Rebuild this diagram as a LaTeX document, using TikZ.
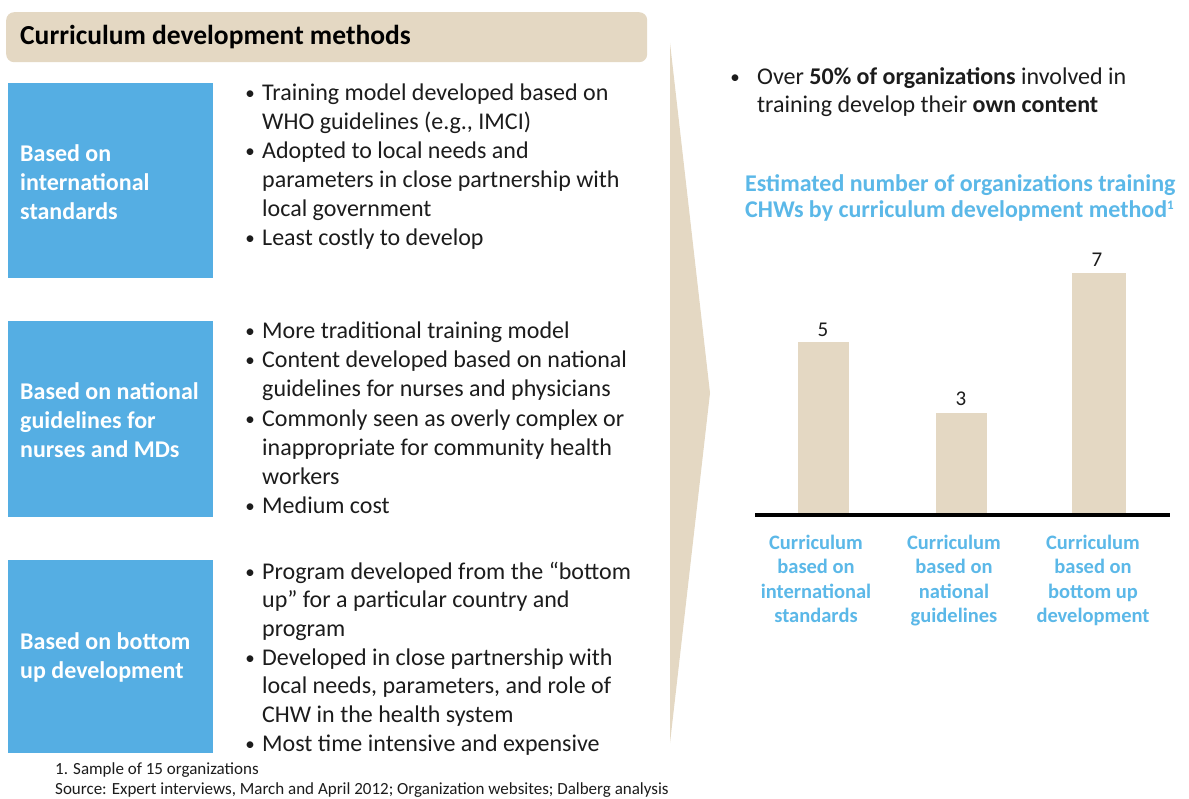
\documentclass[tikz,border=0pt]{standalone}
\usepackage{fontspec}
\setmainfont{Carlito}
\definecolor{beige}{HTML}{E4D8C3}
\definecolor{boxblue}{HTML}{55AEE3}
\definecolor{chartblue}{HTML}{5BB8E8}
\definecolor{txt}{HTML}{1C1C1C}
\begin{document}
\begin{tikzpicture}[x=1pt,y=-1pt,
  titlebar/.style={fill=beige, rounded corners=8pt, anchor=north west, minimum width=641pt, minimum height=50pt, inner sep=0pt},
  titletext/.style={anchor=west, inner sep=0pt, font=\fontsize{27.5}{32}\selectfont\bfseries, text=black},
  catbox/.style={fill=boxblue, anchor=north west, minimum width=205pt, inner sep=0pt},
  cattext/.style={anchor=west, inner sep=0pt, align=left, font=\fontsize{24}{29}\selectfont\bfseries, text=white},
  bul/.style={anchor=base, inner sep=0pt, font=\fontsize{19}{29}\selectfont, text=txt},
  btext/.style={anchor=base west, inner sep=0pt, align=left, font=\fontsize{24}{29}\selectfont, text=txt},
  bar/.style={fill=beige, anchor=south, minimum width=51pt, inner sep=0pt},
  val/.style={anchor=center, inner sep=0pt, font=\fontsize{21}{25}\selectfont, text=txt},
  cat/.style={anchor=base, inner sep=0pt, align=center, font=\fontsize{20.5}{24.5}\selectfont\bfseries, text=chartblue},
  foot/.style={anchor=base west, inner sep=0pt, align=left, font=\fontsize{17}{20}\selectfont, text=txt}
]
\useasboundingbox (0,0) rectangle (1189,799);
\fill[white] (0,0) rectangle (1189,799);

% title bar
\node[titlebar] (title) at (6,12) {};
\node[titletext] (titlet) at ([xshift=14pt]title.west) {Curriculum development methods};

% chevron
\fill[beige] (670,43) -- (710,393) -- (670,743) -- cycle;

% category boxes
\node[catbox, minimum height=195pt] (box1) at (8,83) {};
\node[cattext] (l1) at ([xshift=12pt,yshift=-1pt]box1.west) {Based on\\international\\standards};
\node[catbox, minimum height=196pt] (box2) at (8,321) {};
\node[cattext] (l2) at ([xshift=12pt,yshift=-1pt]box2.west) {Based on national\\guidelines for\\nurses and MDs};
\node[catbox, minimum height=193pt] (box3) at (8,560) {};
\node[cattext] (l3) at ([xshift=12pt,yshift=-1pt]box3.west) {Based on bottom\\up development};

% bullets block 1 (base anchor = last line's baseline)
\node[bul] (b11) at (250,100) {•};
\node[btext] (t11) at (262,130) {Training model developed based on\\WHO guidelines (e.g., IMCI)};
\node[bul] (b12) at (250,158) {•};
\node[btext] (t12) at (262,217) {Adopted to local needs and\\parameters in close partnership with\\local government};
\node[bul] (b13) at (250,245) {•};
\node[btext] (t13) at (262,246) {Least costly to develop};

% bullets block 2
\node[bul] (b21) at (250,338) {•};
\node[btext] (t21) at (262,339) {More traditional training model};
\node[bul] (b22) at (250,367) {•};
\node[btext] (t22) at (262,397) {Content developed based on national\\guidelines for nurses and physicians};
\node[bul] (b23) at (250,425) {•};
\node[btext] (t23) at (262,484) {Commonly seen as overly complex or\\inappropriate for community health\\workers};
\node[bul] (b24) at (250,512) {•};
\node[btext] (t24) at (262,513) {Medium cost};

% bullets block 3
\node[bul] (b31) at (250,578) {•};
\node[btext, font=\fontsize{24}{28.6}\selectfont] (t31) at (262,636.2) {Program developed from the “bottom\\up” for a particular country and\\program};
\node[bul] (b32) at (250,664) {•};
\node[btext, font=\fontsize{24}{28.6}\selectfont] (t32) at (262,722.2) {Developed in close partnership with\\local needs, parameters, and role of\\CHW in the health system};
\node[bul] (b33) at (250,750) {•};
\node[btext] (t33) at (262,751) {Most time intensive and expensive};

% footnotes
\node[foot] (fn1) at (55,774) {1. Sample of 15 organizations};
\node[foot] (fn2) at (55,794) {Source: Expert interviews, March and April 2012; Organization websites; Dalberg analysis};

% right top bullet
\node[bul] (rb) at (735,84) {•};
\node[btext, font=\fontsize{24}{28}\selectfont] (rt) at (757,113) {Over \textbf{50\% of organizations} involved in\\training develop their \textbf{own content}};

% chart title
\node[btext, font=\fontsize{24}{26}\selectfont\bfseries, text=chartblue] (ctitle) at (745,218) {Estimated number of organizations training\\CHWs by curriculum development method\raisebox{0.35em}{\fontsize{13}{13}\selectfont 1}};

% bars
\node[bar, minimum height=173pt] (bar1) at (823,515) {};
\node[bar, minimum height=102pt] (bar2) at (961,515) {};
\node[bar, minimum height=242pt, minimum width=54pt] (bar3) at (1099,515) {};
\node[val] (v1) at (823,330) {5};
\node[val] (v2) at (961,399) {3};
\node[val] (v3) at (1097,260) {7};

% axis
\coordinate (axl) at (755,515);
\coordinate (axr) at (1170,515);
\draw[line width=3.3pt, black] (axl) -- (axr);

% category labels
\node[cat] (c1) at (816,622.5) {Curriculum\\based on\\international\\standards};
\node[cat] (c2) at (954,622.5) {Curriculum\\based on\\national\\guidelines};
\node[cat] (c3) at (1093,622.5) {Curriculum\\based on\\bottom up\\development};
\end{tikzpicture}
\end{document}
